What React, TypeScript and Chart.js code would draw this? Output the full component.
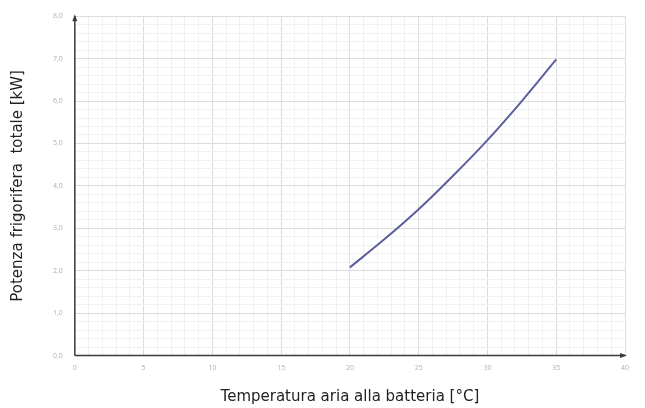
import React, { useEffect, useRef } from "react";
import { Chart, registerables } from "chart.js";

Chart.register(...registerables);

const temperatures = [20, 22.5, 25, 27.5, 30, 32.5, 35];
const power = [2.08, 2.74, 3.45, 4.24, 5.08, 6.0, 6.98];
const xTitle = "Temperatura aria alla batteria [°C]";
const yTitle = "Potenza frigorifera  totale [kW]";

const arrowPlugin = {
  id: "axisArrows",
  afterDatasetsDraw(chart: any) {
    const { ctx, chartArea } = chart;
    const { left, right, top, bottom } = chartArea;
    ctx.save();
    ctx.strokeStyle = "#3a3a3a";
    ctx.fillStyle = "#3a3a3a";
    ctx.lineWidth = 1.5;
    ctx.beginPath();
    ctx.moveTo(left, bottom);
    ctx.lineTo(right, bottom);
    ctx.moveTo(left, bottom);
    ctx.lineTo(left, top);
    ctx.stroke();
    ctx.beginPath();
    ctx.moveTo(right + 2, bottom);
    ctx.lineTo(right - 5, bottom - 2.5);
    ctx.lineTo(right - 5, bottom + 2.5);
    ctx.closePath();
    ctx.fill();
    ctx.beginPath();
    ctx.moveTo(left, top - 2);
    ctx.lineTo(left - 2.5, top + 5);
    ctx.lineTo(left + 2.5, top + 5);
    ctx.closePath();
    ctx.fill();
    ctx.restore();
  },
};

export default function App() {
  const ref = useRef<HTMLCanvasElement>(null);
  useEffect(() => {
    document.body.style.margin = "0";
    const chart = new Chart(ref.current!, {
      type: "line",
      data: {
        datasets: [
          {
            data: temperatures.map((t, i) => ({ x: t, y: power[i] })),
            borderColor: "#5b5f9c",
            borderWidth: 2,
            pointRadius: 0,
            cubicInterpolationMode: "monotone",
            fill: false,
          },
        ],
      },
      plugins: [arrowPlugin],
      options: {
        animation: false,
        responsive: false,
        maintainAspectRatio: false,
        layout: { padding: { left: 9, right: 20, top: 14, bottom: 2 } },
        plugins: { legend: { display: false }, tooltip: { enabled: false } },
        scales: {
          x: {
            type: "linear",
            min: 0,
            max: 40,
            border: { display: false },
            ticks: {
              stepSize: 1,
              autoSkip: false,
              maxRotation: 0,
              color: "#b0b0b0",
              font: { size: 7, family: "Open Sans" },
              padding: 8,
              callback: (v: any) => (Number(v) % 5 === 0 ? String(v) : ""),
            },
            grid: {
              drawTicks: false,
              color: (c: any) => (c.tick && c.tick.value % 5 === 0 ? "#dcdcdc" : "#f1f1f1"),
              lineWidth: 1,
            },
            title: {
              display: true,
              text: xTitle,
              color: "#222222",
              font: { size: 15, family: "DejaVu Sans" },
              padding: { top: 8, bottom: 0 },
            },
          },
          y: {
            type: "linear",
            min: 0,
            max: 8,
            border: { display: false },
            ticks: {
              stepSize: 0.2,
              autoSkip: false,
              color: "#b0b0b0",
              font: { size: 7, family: "Open Sans" },
              padding: 12,
              callback: (v: any) => {
                const n = Math.round(Number(v) * 10) / 10;
                return Math.abs(n - Math.round(n)) < 1e-6 ? n.toFixed(1).replace(".", ",") : "";
              },
            },
            grid: {
              drawTicks: false,
              color: (c: any) => {
                const v = c.tick ? c.tick.value : 0;
                return Math.abs(v - Math.round(v)) < 1e-6 ? "#dcdcdc" : "#f1f1f1";
              },
              lineWidth: 1,
            },
            title: {
              display: true,
              text: yTitle,
              color: "#222222",
              font: { size: 15, family: "DejaVu Sans" },
              padding: { top: 0, bottom: 14 },
            },
          },
        },
      },
    } as any);
    return () => chart.destroy();
  }, []);
  return (
    <div style={{ position: "fixed", left: 0, top: 0, width: 645, height: 408, background: "#fff" }}>
      <canvas ref={ref} width={645} height={408} style={{ width: 645, height: 408 }} />
    </div>
  );
}
